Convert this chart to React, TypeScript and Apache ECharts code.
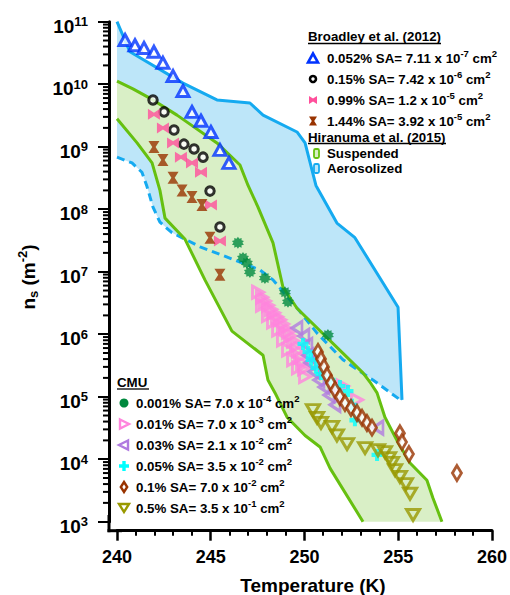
import React, { useEffect, useRef } from 'react';
import * as echarts from 'echarts';

const FONT = '"Liberation Sans", Arial, Helvetica, sans-serif';

// ---- Broadley et al. (2012) ----
const broadley052 = [
  [240.43, 5.1e10], [240.96, 4.2e10], [241.44, 3.8e10], [241.97, 3.3e10], [242.45, 2.2e10],
  [242.99, 1.35e10], [243.52, 7.8e9], [244.0, 3.6e9], [244.48, 2.6e9], [245.01, 1.72e9],
  [245.49, 8.9e8], [245.97, 5.5e8],
];
const broadley015 = [
  [241.92, 5.6e9], [242.51, 3.6e9], [243.04, 1.85e9], [243.57, 1.1e9], [244.11, 9.2e8],
  [244.59, 6.8e8], [244.96, 1.95e8], [245.49, 5.2e7],
];
const broadley099 = [
  [241.97, 3.3e9], [242.45, 2.0e9], [242.99, 1.15e9], [243.41, 6.8e8], [244.0, 5.5e8],
  [244.48, 3.9e8], [245.01, 1.17e8], [245.49, 3.1e7],
];
const broadley144 = [
  [241.97, 9.9e8], [242.45, 6.1e8], [242.99, 3.2e8], [243.47, 2.0e8], [244.0, 1.57e8],
  [244.53, 1.17e8], [244.96, 3.5e7], [245.49, 8.9e6],
];

// ---- CMU ----
const cmu0001 = [
  [246.45, 2.9e7], [246.72, 1.66e7], [246.93, 1.38e7], [247.09, 9.9e6], [247.89, 7.9e6],
  [248.96, 4.7e6], [249.12, 3.3e6], [251.25, 9.7e5],
];
const cmu001 = [
  [247.52, 4.7e6], [247.73, 3.9e6], [247.89, 3.4e6], [248.05, 2.9e6], [248.21, 2.5e6],
  [248.37, 2.2e6], [248.53, 1.9e6], [248.69, 1.7e6], [248.85, 1.46e6], [248.96, 1.26e6],
  [249.12, 1.08e6], [249.23, 9.4e5], [249.39, 7.8e5], [249.55, 6.5e5], [249.65, 5.4e5],
  [249.76, 4.3e5], [249.87, 3.5e5], [249.97, 2.8e5],
  [247.73, 2.9e6], [248.05, 2.0e6], [248.32, 1.57e6], [248.59, 1.17e6], [248.85, 8.1e5],
  [249.12, 5.6e5], [249.39, 3.9e5], [249.65, 2.9e5], [250.03, 2.1e5],
  [252.05, 1.48e5], [252.8, 8.9e4],
];
const cmu003 = [
  [249.6, 1.26e6], [249.97, 9.4e5], [250.13, 6.7e5], [250.19, 4.6e5], [250.29, 3.5e5],
  [250.51, 2.5e5], [250.77, 1.85e5], [251.04, 1.43e5], [251.31, 1.06e5], [251.63, 7.4e4],
  [253.92, 3.2e4],
];
const cmu005 = [
  [249.92, 7.0e5], [250.19, 5.2e5], [250.35, 3.9e5], [250.61, 2.9e5], [250.88, 2.3e5],
  [251.36, 1.85e5], [251.89, 1.48e5], [252.32, 1.23e5], [252.53, 7.4e4], [252.69, 4.2e4],
  [253.87, 1.17e4],
];
const cmu01 = [
  [250.72, 5.2e5], [250.88, 4.0e5], [251.04, 3.0e5], [251.2, 2.2e5], [251.41, 1.66e5],
  [251.63, 1.28e5], [251.89, 9.9e4], [252.16, 7.9e4], [252.48, 6.6e4], [252.8, 5.5e4],
  [253.07, 4.6e4], [253.33, 3.8e4], [253.6, 3.2e4], [255.09, 2.6e4], [255.2, 1.88e4],
  [255.57, 1.21e4], [258.13, 6.0e3],
];
const cmu05 = [
  [250.45, 6.1e4], [250.67, 4.6e4], [250.88, 3.8e4], [251.47, 3.3e4], [251.73, 2.4e4],
  [252.27, 1.75e4], [253.23, 1.51e4], [253.92, 1.4e4], [254.29, 1.3e4], [254.51, 1.04e4],
  [254.67, 8.7e3], [254.83, 6.7e3], [255.09, 5.2e3], [255.41, 4.0e3], [255.63, 2.8e3],
  [255.79, 1.28e3],
];

// ---- Hiranuma et al. (2015) bands ----
const aeroUpper = [
  [240, 1e11], [240.69, 3.3e10], [243.52, 1.04e10], [245.33, 5.6e9], [247.09, 5.0e9],
  [247.79, 3.2e9], [249.6, 1.72e9], [250.03, 1.15e9], [250.61, 2.4e8], [251.73, 6.0e7],
  [252.69, 3.5e7], [254.99, 2.7e6], [255.2, 8.9e4],
];
const aeroLower = [
  [240, 6.8e8], [240.8, 5.5e8], [241.33, 3.9e8], [241.6, 2.3e8], [241.92, 1.08e8],
  [242.29, 6.2e7], [242.93, 4.2e7], [243.73, 3.2e7], [244.43, 2.5e7], [246.56, 1.43e7],
  [247.63, 1.06e7], [248.32, 7.4e6], [249.76, 2.3e6], [250.67, 1.04e6], [252.05, 3.9e5],
  [253.65, 1.85e5], [255.2, 8.5e4],
];
const suspUpper = [
  [240, 1.12e10], [240.85, 8.4e9], [241.92, 5.6e9], [243.2, 3.2e9], [245.33, 1.15e9],
  [246.56, 5.1e8], [246.99, 2.4e8], [247.52, 1.08e8], [248.32, 2.9e7], [248.85, 5.7e6],
  [249.6, 2.6e6], [253.12, 2.4e5], [253.49, 1.72e5], [253.87, 1.15e5], [254.29, 4.7e4],
  [254.93, 2.0e4], [255.63, 8.7e3], [256.53, 4.6e3], [256.85, 2.4e3], [257.33, 1e3],
];
const suspLower = [
  [240, 2.8e9], [241.07, 1.15e9], [241.87, 5.5e8], [242.29, 2.0e8], [242.56, 7.2e7],
  [243.63, 3.3e7], [244.69, 7.4e6], [246.13, 1.12e6], [247.79, 4.6e5], [248.05, 1.85e5],
  [248.43, 1.15e5], [249.07, 4.7e4], [250.03, 2.4e4], [250.83, 1.57e4], [251.36, 7.2e3],
  [253.12, 1e3],
];

const C = {
  blue: '#0033ff', black: '#000000', pink: '#ff4f9b', brown: '#993300',
  green: '#00893e', pinkTri: '#ff85dd', purple: '#b07ae0', cyan: '#00ffff',
  olive: '#999900', aeroFill: '#bde6f9', aeroLine: '#15aaf0', suspFill: '#d9efc6', suspLine: '#66c010',
};

function starPath(n: number, rOut: number, rIn: number) {
  let d = '';
  for (let i = 0; i < 2 * n; i++) {
    const r = i % 2 === 0 ? rOut : rIn;
    const a = (Math.PI * i) / n - Math.PI / 2;
    d += (i === 0 ? 'M' : 'L') + (10 + r * Math.cos(a)).toFixed(2) + ',' + (10 + r * Math.sin(a)).toFixed(2);
  }
  return 'path://' + d + 'Z';
}
const SYM = {
  bowtie: 'path://M0,0L5,3.5L10,0L10,10L5,6.5L0,10Z',
  hourglass: 'path://M0,0L10,0L6.5,5L10,10L0,10L3.5,5Z',
  cross: 'path://M3.2,0H6.8V3.2H10V6.8H6.8V10H3.2V6.8H0V3.2H3.2Z',
  right: 'path://M0,0L10,5L0,10Z',
  left: 'path://M10,0L0,5L10,10Z',
  down: 'path://M0,0L10,0L5,10Z',
  star: starPath(10, 10, 7),
};

function polygonSeries(points: number[][], fill: string, z: number) {
  return {
    type: 'custom', coordinateSystem: 'cartesian2d', silent: true, z,
    encode: { x: 0, y: 1 },
    data: [points[0]],
    renderItem: (_p: any, api: any) => ({
      type: 'polygon',
      shape: { points: points.map((pt) => api.coord(pt)) },
      style: { fill, stroke: 'none' },
    }),
  };
}
function lineSeries(points: number[][], color: string, dashed = false) {
  return {
    type: 'line', data: points, symbol: 'none', silent: true, z: 3,
    lineStyle: { color, width: 3, type: dashed ? [8, 5] : 'solid' },
  };
}
function scatter(data: number[][], symbol: string, size: any, color: string, border?: string, bw = 2.8) {
  return {
    type: 'scatter', data, symbol, symbolSize: size, z: 5,
    itemStyle: border ? { color, borderColor: border, borderWidth: bw } : { color },
  };
}

const legendRich = {
  a: { fontSize: 13.3, fontWeight: 'bold', fontFamily: FONT, lineHeight: 20, fill: '#000', color: '#000' },
  s: { fontSize: 9.5, fontWeight: 'bold', fontFamily: FONT, lineHeight: 5, verticalAlign: 'top', fill: '#000', color: '#000' },
};
function gText(x: number, y: number, text: string) {
  return {
    type: 'text', x, y, z: 20,
    style: { text, rich: legendRich, font: `bold 13.3px ${FONT}`, fill: '#000', align: 'left', verticalAlign: 'middle', textAlign: 'left', textVerticalAlign: 'middle' },
  };
}
function gLine(x1: number, y1: number, x2: number, y2: number, w = 1.3) {
  return { type: 'line', z: 20, shape: { x1, y1, x2, y2 }, style: { stroke: '#000', lineWidth: w } };
}
function gPoly(points: number[][], fill: string, stroke?: string, lw = 2.4) {
  return { type: 'polygon', z: 20, shape: { points }, style: { fill, stroke: stroke || 'none', lineWidth: stroke ? lw : 0 } };
}

function buildGraphics() {
  const g: any[] = [];
  // axis corner
  g.push(gLine(109, 515, 109, 532.2, 3));
  g.push(gLine(107.5, 530.7, 122, 530.7, 3));
  // titles
  g.push({
    type: 'text', x: 313, y: 585, z: 20,
    style: { text: 'Temperature (K)', font: `bold 19px ${FONT}`, fill: '#000', align: 'center', verticalAlign: 'middle', textAlign: 'center', textVerticalAlign: 'middle' },
  });
  g.push({
    type: 'text', x: 28, y: 277, rotation: Math.PI / 2, z: 20,
    style: {
      text: '{b|n}{d|s}{b| (m}{u|-2}{b|)}',
      rich: {
        b: { fontSize: 19, fontWeight: 'bold', fontFamily: FONT, lineHeight: 24, fill: '#000' },
        d: { fontSize: 13, fontWeight: 'bold', fontFamily: FONT, lineHeight: 14, verticalAlign: 'bottom', fill: '#000' },
        u: { fontSize: 13, fontWeight: 'bold', fontFamily: FONT, lineHeight: 9, verticalAlign: 'top', fill: '#000' },
      },
      align: 'center', verticalAlign: 'middle', textAlign: 'center', textVerticalAlign: 'middle',
    },
  });
  // Broadley legend
  g.push(gText(308, 36, '{a|Broadley et al. (2012)}'));
  g.push(gLine(308, 43.5, 441, 43.5));
  const mx = 313;
  g.push(gPoly([[mx, 53.5], [mx - 5, 62.5], [mx + 5, 62.5]], '#fff', C.blue, 2.6));
  g.push(gText(327, 58, '{a|0.052% SA= 7.11 x 10}{s|-7}{a| cm}{s|2}'));
  g.push({ type: 'circle', z: 20, shape: { cx: mx, cy: 79, r: 3 }, style: { fill: '#fff', stroke: '#000', lineWidth: 2.6 } });
  g.push(gText(327, 79, '{a|0.15% SA= 7.42 x 10}{s|-6}{a| cm}{s|2}'));
  g.push(gPoly([[mx - 4, 96], [mx, 98.5], [mx + 4, 96], [mx + 4, 104], [mx, 101.5], [mx - 4, 104]], C.pink));
  g.push(gText(327, 100, '{a|0.99% SA= 1.2 x 10}{s|-5}{a| cm}{s|2}'));
  g.push(gPoly([[mx - 4, 116.5], [mx + 4, 116.5], [mx + 1.2, 121], [mx + 4, 125.5], [mx - 4, 125.5], [mx - 1.2, 121]], C.brown));
  g.push(gText(327, 121, '{a|1.44% SA= 3.92 x 10}{s|-5}{a| cm}{s|2}'));
  g.push(gText(308, 137, '{a|Hiranuma et al. (2015)}'));
  g.push(gLine(308, 143.5, 446, 143.5));
  g.push({ type: 'rect', z: 20, shape: { x: 314, y: 149, width: 5, height: 9, r: 1.5 }, style: { fill: C.suspFill, stroke: C.suspLine, lineWidth: 1.8 } });
  g.push(gText(327, 153.5, '{a|Suspended}'));
  g.push({ type: 'rect', z: 20, shape: { x: 314, y: 164, width: 5, height: 9, r: 1.5 }, style: { fill: C.aeroFill, stroke: C.aeroLine, lineWidth: 1.8 } });
  g.push(gText(327, 168.5, '{a|Aerosolized}'));
  // CMU legend
  g.push(gText(117, 382.5, '{a|CMU}'));
  g.push(gLine(117, 389, 149, 389));
  const cx = 124;
  g.push({ type: 'circle', z: 20, shape: { cx, cy: 403, r: 4.5 }, style: { fill: C.green } });
  g.push(gText(136, 403, '{a|0.001% SA= 7.0 x 10}{s|-4}{a| cm}{s|2}'));
  g.push(gPoly([[cx - 4, 419.5], [cx + 5, 424], [cx - 4, 428.5]], '#fff', C.pinkTri));
  g.push(gText(136, 424, '{a|0.01% SA= 7.0 x 10}{s|-3}{a| cm}{s|2}'));
  g.push(gPoly([[cx + 4, 440.5], [cx - 5, 445], [cx + 4, 449.5]], '#fff', C.purple));
  g.push(gText(136, 445, '{a|0.03% SA= 2.1 x 10}{s|-2}{a| cm}{s|2}'));
  g.push(gPoly([[cx - 1.7, 461], [cx + 1.7, 461], [cx + 1.7, 464.3], [cx + 5, 464.3], [cx + 5, 467.7], [cx + 1.7, 467.7], [cx + 1.7, 471], [cx - 1.7, 471], [cx - 1.7, 467.7], [cx - 5, 467.7], [cx - 5, 464.3], [cx - 1.7, 464.3]], C.cyan));
  g.push(gText(136, 466, '{a|0.05% SA= 3.5 x 10}{s|-2}{a| cm}{s|2}'));
  g.push(gPoly([[cx, 482], [cx + 3.2, 487], [cx, 492], [cx - 3.2, 487]], '#fff', C.brown));
  g.push(gText(136, 487, '{a|0.1% SA= 7.0 x 10}{s|-2}{a| cm}{s|2}'));
  g.push(gPoly([[cx - 5, 504], [cx + 5, 504], [cx, 512]], '#fff', C.olive));
  g.push(gText(136, 508, '{a|0.5% SA= 3.5 x 10}{s|-1}{a| cm}{s|2}'));
  return g;
}

export default function App() {
  const ref = useRef<HTMLDivElement>(null);
  useEffect(() => {
    if (!ref.current) return;
    const chart = echarts.init(ref.current, undefined, { renderer: 'svg' });
    const minorVals: number[][] = [];
    for (let e = 3; e < 11; e++) for (let k = 2; k <= 9; k++) minorVals.push([240, k * Math.pow(10, e)]);

    chart.setOption({
      animation: false,
      backgroundColor: '#fff',
      textStyle: { fontFamily: FONT },
      grid: { left: 117, right: 18, top: 21.7, bottom: 73.3, containLabel: false },
      xAxis: {
        type: 'value', min: 240, max: 260, interval: 5, offset: 9,
        axisLine: { show: true, lineStyle: { color: '#000', width: 3 } },
        axisTick: { show: true, length: 10, lineStyle: { color: '#000', width: 2.5 } },
        minorTick: { show: true, splitNumber: 5, length: 5, lineStyle: { color: '#000', width: 2 } },
        axisLabel: { color: '#000', fontSize: 18, fontWeight: 'bold', fontFamily: FONT, margin: 17 },
        splitLine: { show: false },
      },
      yAxis: {
        type: 'log', logBase: 10, min: 1e3, max: 1e11, splitNumber: 8, offset: 8,
        axisLine: { show: true, lineStyle: { color: '#000', width: 3 } },
        axisTick: { show: true, length: 11, lineStyle: { color: '#000', width: 2 } },
        axisLabel: {
          margin: 21,
          padding: [9, 0, 0, 0],
          formatter: (v: number) => `{b|10}{s|${Math.round(Math.log10(v))}}`,
          rich: {
            b: { fontSize: 19, fontWeight: 'bold', fontFamily: FONT, lineHeight: 22, color: '#000' },
            s: { fontSize: 13, fontWeight: 'bold', fontFamily: FONT, lineHeight: 5, verticalAlign: 'top', color: '#000' },
          },
        },
        splitLine: { show: false },
      },
      graphic: buildGraphics(),
      series: [
        polygonSeries([...aeroUpper, ...[...aeroLower].reverse()], C.aeroFill, 1),
        polygonSeries([...suspUpper, ...[...suspLower].reverse()], C.suspFill, 2),
        lineSeries(aeroLower, C.aeroLine, true),
        lineSeries(aeroUpper, C.aeroLine),
        lineSeries(suspUpper, C.suspLine),
        lineSeries(suspLower, C.suspLine),
        {
          type: 'custom', coordinateSystem: 'cartesian2d', silent: true, clip: false, z: 6,
          encode: { x: 0, y: 1 }, data: minorVals,
          renderItem: (_p: any, api: any) => {
            const p = api.coord([api.value(0), api.value(1)]);
            return { type: 'line', shape: { x1: p[0] - 14, y1: p[1], x2: p[0] - 8, y2: p[1] }, style: { stroke: '#000', lineWidth: 2 } };
          },
        },
        scatter(broadley052, 'triangle', [12, 11], '#fff', C.blue, 3),
        scatter(broadley015, 'circle', 8.5, '#fff', C.black, 3),
        scatter(broadley099, SYM.bowtie, [12, 11], C.pink),
        scatter(broadley144, SYM.hourglass, [11, 12], C.brown),
        scatter(cmu0001, SYM.star, 12, C.green),
        scatter(cmu001, SYM.right, [11, 12], 'transparent', C.pinkTri, 3),
        scatter(cmu003, SYM.left, [10, 13], 'transparent', C.purple, 3),
        scatter(cmu005, SYM.cross, [11, 12], C.cyan),
        scatter(cmu01, 'diamond', [9, 15], '#fff', C.brown, 3),
        scatter(cmu05, SYM.down, [13, 11], 'transparent', C.olive, 3),
      ],
    });
    return () => chart.dispose();
  }, []);
  return <div ref={ref} style={{ position: 'absolute', left: 0, top: 0, width: 510, height: 595 }} />;
}
